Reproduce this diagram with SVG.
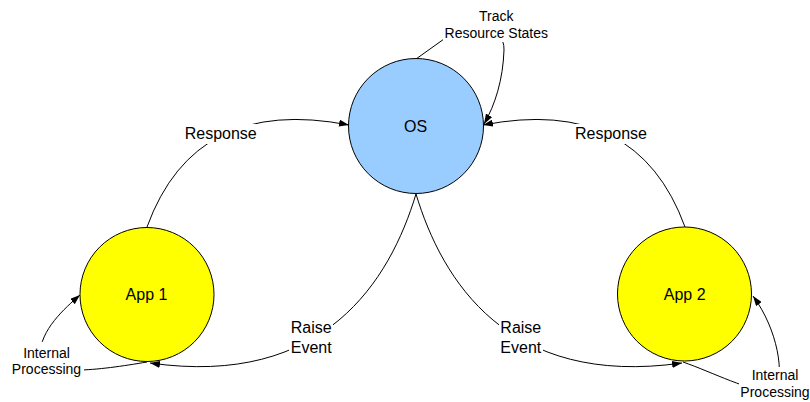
<svg xmlns="http://www.w3.org/2000/svg" width="810" height="402" viewBox="0 0 810 402">
<style>
.node{stroke:#000;stroke-width:1}
.os{fill:#99CCFF}
.app{fill:#FFFF00}
.edge{fill:none;stroke:#000;stroke-width:1;marker-end:url(#arr)}
.lbl{fill:#fff;stroke:none}
text{font-family:"Liberation Sans",Arial,sans-serif;fill:#000;text-anchor:middle}
.big{font-size:16px}
.small{font-size:14px}
</style>
<defs>
<marker id="arr" markerUnits="userSpaceOnUse" markerWidth="10" markerHeight="7" refX="10" refY="3.5" orient="auto">
<path d="M0,0 L10,3.5 L0,7 z" fill="#000"/>
</marker>
</defs>
<rect width="810" height="402" fill="#fff"/>
<g id="connectors">
<g id="e-response-left">
<path class="edge" d="M147,227 Q195,95 349,125"/>
<rect class="lbl" x="183" y="124" width="76" height="20"/>
<text class="big" x="220.7" y="139">Response</text>
</g>
<g id="e-response-right">
<path class="edge" d="M685,227 Q637,95 483,125"/>
<rect class="lbl" x="573" y="124" width="76" height="20"/>
<text class="big" x="611" y="139">Response</text>
</g>
<g id="e-track">
<path class="edge" d="M416,59 L444,39 C470,22 505,25 504,50 C503,80 495,105 484,124"/>
<rect class="lbl" x="443" y="6" width="107" height="36"/>
<text class="small" x="496.3" y="20.7">Track</text>
<text class="small" x="496.3" y="37.7">Resource States</text>
</g>
<g id="e-raise-left">
<path class="edge" d="M416,194 C390,280 325,388 150,363"/>
<rect class="lbl" x="289" y="320" width="44" height="37"/>
<text class="big" x="311.2" y="333.3">Raise</text>
<text class="big" x="311.2" y="352.7">Event</text>
</g>
<g id="e-raise-right">
<path class="edge" d="M416,194 C442,280 507,388 682,363"/>
<rect class="lbl" x="499" y="320" width="44" height="37"/>
<text class="big" x="520.8" y="333.3">Raise</text>
<text class="big" x="520.8" y="352.7">Event</text>
</g>
<g id="e-internal-left">
<path class="edge" d="M147,362 C100,370 40,378 40,355 C40,330 65,308 80,295"/>
<rect class="lbl" x="10" y="342" width="74" height="36"/>
<text class="small" x="46.5" y="357.5">Internal</text>
<text class="small" x="46.5" y="374">Processing</text>
</g>
<g id="e-internal-right">
<path class="edge" d="M683,362 C712,372 750,392 775,392 C785,375 778,330 753,296"/>
<rect class="lbl" x="739" y="367" width="72" height="35"/>
<text class="small" x="775" y="380">Internal</text>
<text class="small" x="775" y="397">Processing</text>
</g>
</g>
<g id="os">
<circle class="node os" cx="416" cy="126" r="67.5"/>
<text class="big" x="415.5" y="131.5">OS</text>
</g>
<g id="app1">
<circle class="node app" cx="147" cy="294.5" r="67"/>
<text class="big" x="146.5" y="299.5">App 1</text>
</g>
<g id="app2">
<circle class="node app" cx="684.5" cy="294" r="67"/>
<text class="big" x="684.7" y="299.5">App 2</text>
</g>
</svg>
